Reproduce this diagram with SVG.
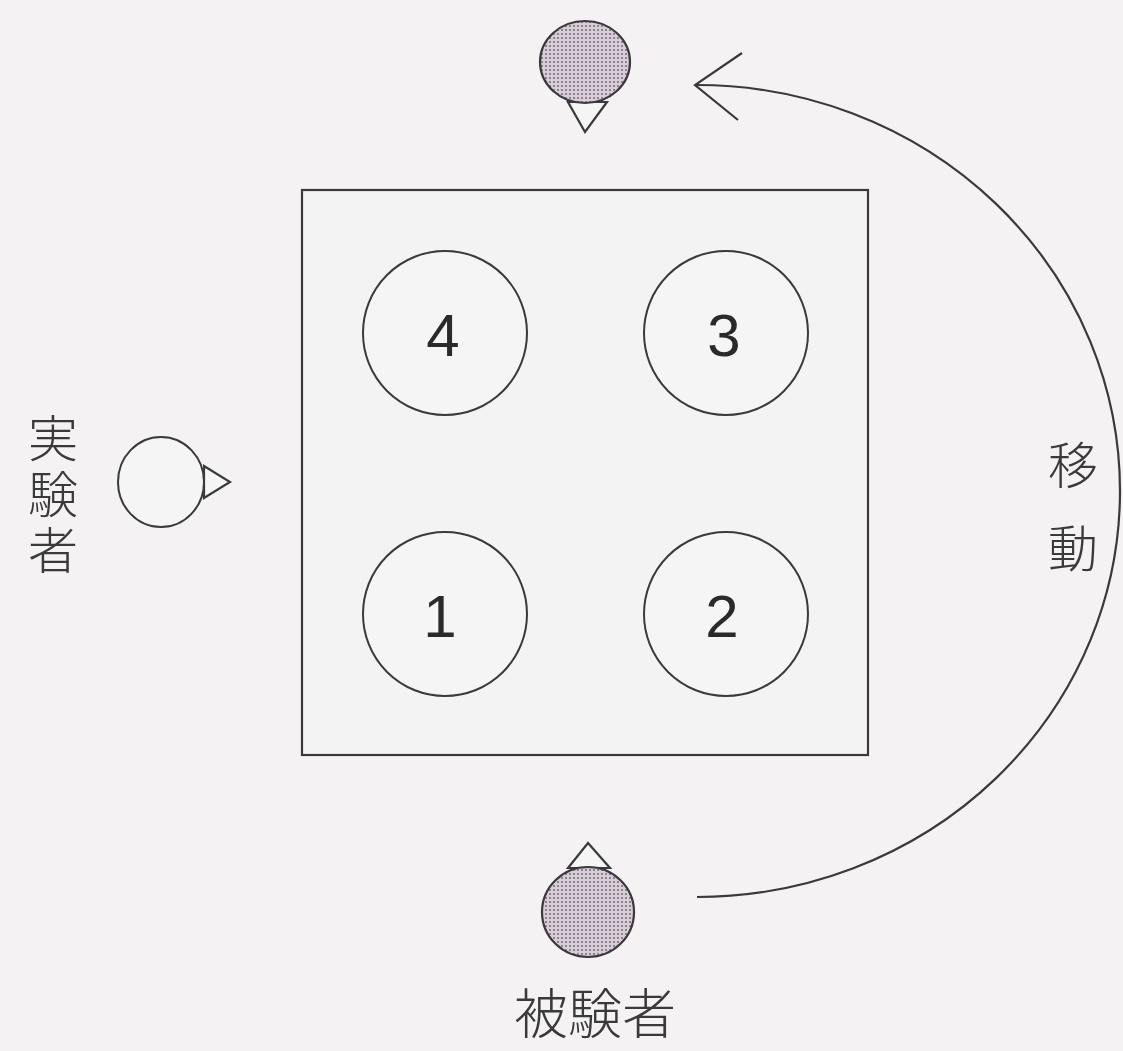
<svg xmlns="http://www.w3.org/2000/svg" width="1123" height="1051" viewBox="0 0 1123 1051">
<style>
.ln{fill:none;stroke:#3a3a3a;stroke-width:2.2}
.cell{fill:#f6f5f6;stroke:#3a3a3a;stroke-width:2}
.num{font-family:"Liberation Sans",Arial,sans-serif;font-size:60px;fill:#2a2a2a;text-anchor:middle}
.jp{font-family:"Noto Sans CJK JP","Noto Sans CJK SC",sans-serif;font-size:50px;fill:#3a3a3a;font-weight:300}
.vt{writing-mode:vertical-rl}
.head{fill:url(#dots);stroke:#3a3a3a;stroke-width:2.2}
.nose{fill:#f6f5f6;stroke:#3a3a3a;stroke-width:2.2;stroke-linejoin:miter}
</style>
<defs>
<pattern id="dots" width="4" height="4" patternUnits="userSpaceOnUse">
<rect width="4" height="4" fill="#d9cdd9"/>
<circle cx="2" cy="2" r="1.1" fill="#7d707d"/>
</pattern>
</defs>
<rect width="1123" height="1051" fill="#f4f2f3"/>
<g id="table">
<rect x="302" y="190" width="566" height="565" fill="#f4f3f4" stroke="#3a3a3a" stroke-width="2.2"/>
</g>
<g id="pos4"><circle class="cell" cx="445" cy="333" r="82"/><text class="num" x="443" y="356">4</text></g>
<g id="pos3"><circle class="cell" cx="726" cy="333" r="82"/><text class="num" x="724" y="356">3</text></g>
<g id="pos1"><circle class="cell" cx="445" cy="614" r="82"/><text class="num" x="440" y="637">1</text></g>
<g id="pos2"><circle class="cell" cx="726" cy="614" r="82"/><text class="num" x="722" y="637">2</text></g>
<g id="subject-top">
<polygon class="nose" points="568,102 607,102 585,132"/>
<ellipse class="head" cx="585" cy="62" rx="45" ry="41"/>
</g>
<g id="experimenter">
<polygon class="nose" points="204,466 204,498 230,482"/>
<ellipse class="cell" cx="161" cy="482" rx="43" ry="45" stroke-width="2.2"/>
<text class="jp vt" x="53" y="413" letter-spacing="6">実験者</text>
</g>
<g id="subject">
<polygon class="nose" points="568,868 610,868 588,843"/>
<ellipse class="head" cx="588" cy="912" rx="46" ry="45"/>
<text class="jp" x="595" y="1034" text-anchor="middle" style="font-size:54px">被験者</text>
</g>
<g id="connectors">
<path class="ln" d="M 697 85 A 423 406 0 0 1 697 897"/>
<polyline class="ln" points="742,53 695,85 738,120"/>
</g>
<g id="move-label">
<text class="jp vt" x="1073" y="440" letter-spacing="33">移動</text>
</g>
</svg>
